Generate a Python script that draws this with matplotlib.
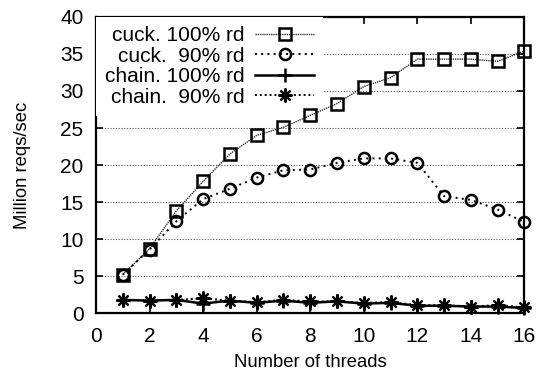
import matplotlib
matplotlib.use("Agg")
import matplotlib.pyplot as plt

plt.rcParams['font.family'] = ['Liberation Sans', 'DejaVu Sans']

threads = list(range(1, 17))
cuck_100 = [5.2, 8.7, 13.8, 17.8, 21.5, 24.0, 25.1, 26.7, 28.3, 30.6, 31.8, 34.3, 34.3, 34.3, 34.0, 35.4]
cuck_90 = [5.2, 8.6, 12.4, 15.4, 16.8, 18.3, 19.3, 19.4, 20.3, 20.9, 20.9, 20.3, 15.8, 15.3, 14.0, 12.3]
chain_100 = [1.8, 1.7, 1.8, 1.3, 1.7, 1.4, 1.7, 1.4, 1.6, 1.3, 1.4, 1.0, 1.0, 0.9, 0.9, 0.7]
chain_90 = [1.8, 1.7, 1.8, 2.0, 1.7, 1.5, 1.8, 1.6, 1.6, 1.4, 1.5, 1.1, 1.1, 0.9, 1.1, 0.8]
labels = ["cuck. 100% rd", "cuck.  90% rd", "chain. 100% rd", "chain.  90% rd"]

fig = plt.figure(figsize=(5.39, 3.76), dpi=100)
ax = fig.add_axes([0.178, 0.167, 0.795, 0.788])

ax.plot(threads, cuck_100, color='#333333', lw=1.0, ls=(0, (1, 0.6)),
        marker='s', ms=9, mfc='none', mec='black', mew=1.8, label=labels[0],
        clip_on=False, zorder=3)
ax.plot(threads, cuck_90, color='black', lw=1.4, ls=(0, (1, 2.2)),
        marker='o', ms=8, mfc='none', mec='black', mew=1.8, label=labels[1],
        clip_on=False, zorder=3)
ax.plot(threads, chain_100, color='black', lw=1.8, ls='-',
        marker='+', ms=10, mew=1.8, label=labels[2], clip_on=False, zorder=3)
ax.plot(threads, chain_90, color='black', lw=1.4, ls=(0, (1, 1.5)),
        marker=(8, 2, 0), ms=10, mew=1.6, label=labels[3], clip_on=False,
        zorder=3)

ax.set_xlim(0, 16)
ax.set_ylim(0, 40)
ax.set_xticks(range(0, 17, 2))
ax.set_yticks(range(0, 41, 5))
ax.yaxis.grid(True, color='#555555', ls=(0, (1, 1.5)), lw=0.8)
ax.set_axisbelow(True)
ax.tick_params(direction='in', top=True, right=True, length=5, width=1.2,
               labelsize=15)
ax.tick_params(axis='y', pad=9)
ax.tick_params(axis='x', pad=10)
for s in ax.spines.values():
    s.set_linewidth(1.6)

ax.set_xlabel("Number of threads", fontsize=13.3, labelpad=6)
ax.set_ylabel("Million reqs/sec", fontsize=13.3, labelpad=21)

leg = ax.legend(loc='upper left', markerfirst=False, fontsize=15,
                handlelength=2.8, handletextpad=0.5, labelspacing=0.07,
                borderaxespad=0.0, borderpad=0.45, frameon=True,
                fancybox=False, framealpha=1.0)
leg.get_frame().set_edgecolor('none')
# white box hides the grid but stays under the data lines
leg.set_zorder(2.5)

fig.savefig("out.png", dpi=100)
